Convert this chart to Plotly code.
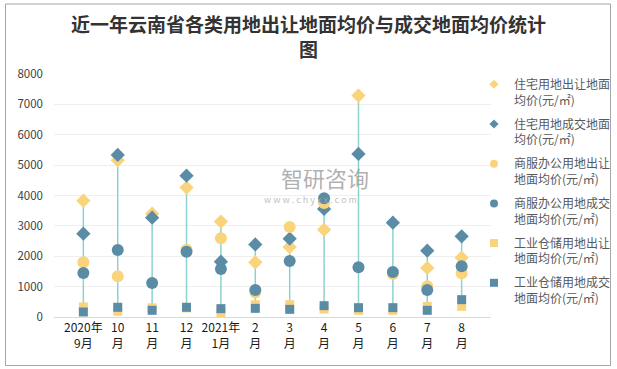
import numpy as np
import plotly.graph_objects as go

categories = ["2020年<br>9月", "10<br>月", "11<br>月", "12<br>月", "2021年<br>1月", "2<br>月",
              "3<br>月", "4<br>月", "5<br>月", "6<br>月", "7<br>月", "8<br>月"]

res_offer = [3830, 5160, 3400, 4260, 3140, 1800, 2305, 2876, 7289, None, 1614, 1954]
res_deal = [2744, 5335, 3270, 4654, 1822, 2390, 2580, 3557, 5368, 3106, 2184, 2656]
com_offer = [1800, 1340, None, 2217, 2590, 810, 2964, 3754, None, 1416, 1010, 1438]
com_deal = [1449, 2206, 1120, 2150, 1580, 890, 1844, 3908, 1636, 1482, 890, 1668]
ind_offer = [330, 190, 300, 300, 130, 406, 406, 260, 220, 220, 350, 351]
ind_deal = [165, 320, 220, 320, 275, 285, 252, 373, 307, 307, 220, 571]

names = ["住宅用地出让地面<br>均价(元/㎡)", "住宅用地成交地面<br>均价(元/㎡)",
         "商服办公用地出让<br>地面均价(元/㎡)", "商服办公用地成交<br>地面均价(元/㎡)",
         "工业仓储用地出让<br>地面均价(元/㎡)", "工业仓储用地成交<br>地面均价(元/㎡)"]

YELLOW = "#F9D47C"
BLUE = "#5A8DA5"
TEAL = "#8FD2CD"

series = [res_offer, res_deal, com_offer, com_deal, ind_offer, ind_deal]
symbols = ["diamond", "diamond", "circle", "circle", "square", "square"]
colors = [YELLOW, BLUE, YELLOW, BLUE, YELLOW, BLUE]
sizes = [11, 11, 12, 12, 9, 9]
legend_sizes = [7, 7, 8, 8, 8, 8]

W, H = 617, 369
ML, MR, MT, MB = 54, 126, 74, 52

fig = go.Figure()

# high-low lines
arr = np.array([[np.nan if v is None else v for v in s] for s in series], dtype=float)
lo = np.nanmin(arr, axis=0)
hi = np.nanmax(arr, axis=0)
lx, ly = [], []
for c, a, b in zip(categories, lo, hi):
    lx += [c, c, None]
    ly += [a, b, None]
fig.add_trace(go.Scatter(x=lx, y=ly, mode="lines", line=dict(color=TEAL, width=1.5),
                         showlegend=False, hoverinfo="skip"))

for i, (s, n, sym, col, sz, lsz) in enumerate(zip(series, names, symbols, colors, sizes, legend_sizes)):
    fig.add_trace(go.Scatter(x=categories, y=s, name=n, mode="markers", showlegend=False,
                             legendgroup=f"g{i}",
                             marker=dict(symbol=sym, color=col, size=sz, line=dict(width=0))))
    # legend entry with small symbol
    fig.add_trace(go.Scatter(x=[None], y=[None], name=n, mode="markers", legendgroup=f"g{i}",
                             marker=dict(symbol=sym, color=col, size=lsz, line=dict(width=0))))

fig.update_layout(
    width=W, height=H,
    margin=dict(l=ML, r=MR, t=MT, b=MB, autoexpand=False),
    paper_bgcolor="white", plot_bgcolor="white",
    font=dict(family="Noto Sans CJK SC", size=12, color="#404040"),
    xaxis=dict(type="category", categoryorder="array", categoryarray=categories,
               showgrid=False, showline=True, linecolor="#D9D9D9", linewidth=1,
               ticks="", tickfont=dict(size=12, color="#1a1a1a"), fixedrange=True),
    yaxis=dict(range=[0, 8000], tickvals=list(range(0, 8001, 1000)),
               showgrid=True, gridcolor="#EFEFEF", gridwidth=1, zeroline=False,
               tickfont=dict(size=11.5, color="#404040"), ticklabelstandoff=10),
    legend=dict(xref="container", yref="container", x=474 / W, xanchor="left",
                y=1 - 70 / H, yanchor="top", maxheight=300, valign="top",
                font=dict(size=12, color="#595959"), tracegroupgap=5.5,
                itemwidth=30, bgcolor="rgba(0,0,0,0)"),
    showlegend=True,
)

def px(x):
    return (x - ML) / (W - ML - MR)
def py(y):
    return (H - MB - y) / (H - MT - MB)

# title
fig.add_annotation(text="近一年云南省各类用地出让地面均价与成交地面均价统计<br>图",
                   x=px(308.5), y=py(36), xref="paper", yref="paper",
                   xanchor="center", yanchor="middle", showarrow=False,
                   font=dict(family="Noto Sans CJK SC", size=19, color="#333333", weight="bold"))

# watermark
fig.add_annotation(text="智研咨询", x=px(325), y=py(177), xref="paper", yref="paper",
                   showarrow=False, font=dict(size=22, color="rgba(150,150,150,0.75)"))
fig.add_annotation(text="w w w . c h y x x . c o m", x=px(310), y=py(199), xref="paper", yref="paper",
                   showarrow=False, font=dict(size=9, color="rgba(170,170,170,0.75)"))

# outer border
fig.add_shape(type="rect", xref="paper", yref="paper",
              x0=px(5.5), x1=px(610.5), y0=py(365.5), y1=py(4),
              line=dict(color="#A6A6A6", width=1), fillcolor="rgba(0,0,0,0)", layer="below")

fig.write_html("out.html", config={"displayModeBar": False},
               post_script="document.body.style.margin='0';document.body.style.overflow='hidden';")
